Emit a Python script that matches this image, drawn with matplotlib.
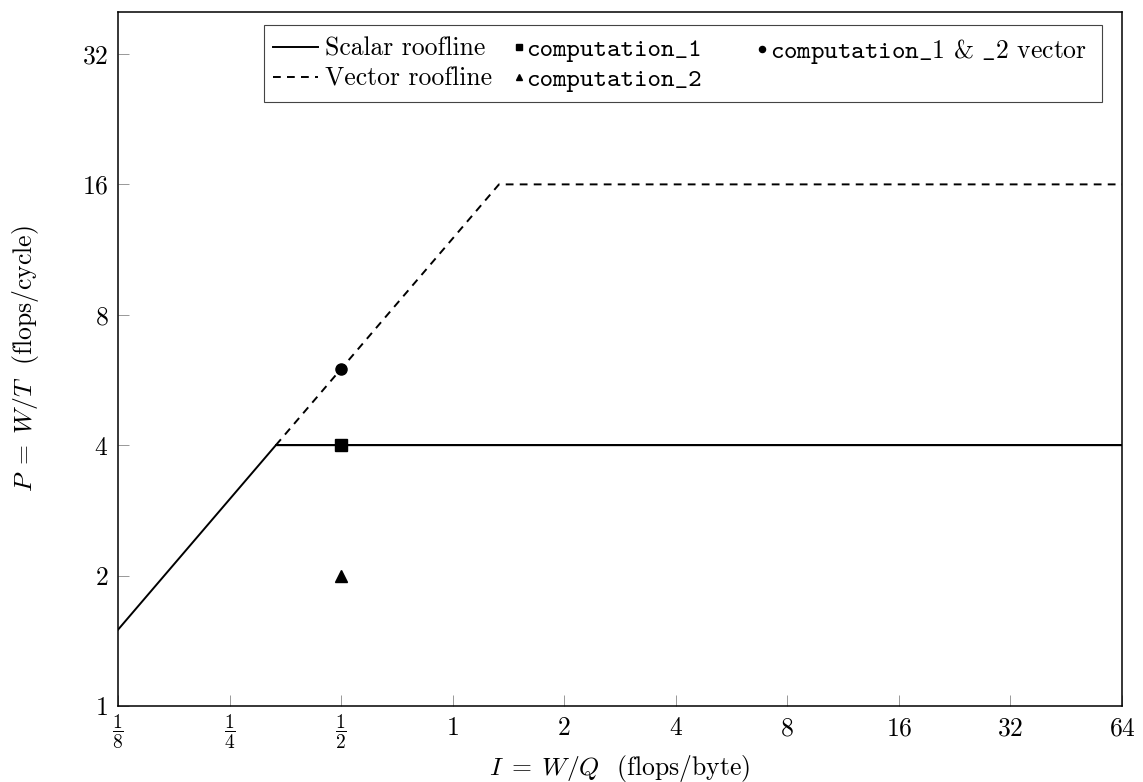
import matplotlib
matplotlib.use('Agg')
import matplotlib.pyplot as plt
import matplotlib.transforms as mtransforms
from matplotlib.lines import Line2D
from matplotlib.patches import Rectangle
from matplotlib.legend_handler import HandlerBase

plt.rcParams['font.family'] = ['cmr10', 'DejaVu Serif']
plt.rcParams['mathtext.fontset'] = 'cm'
plt.rcParams['axes.formatter.use_mathtext'] = True
plt.rcParams['font.size'] = 18.5

# roofline data
scalar_intensity = [1 / 8, 1 / 3, 64]
scalar_perf = [1.5, 4, 4]
vector_intensity = [1 / 3, 4 / 3, 64]
vector_perf = [4, 16, 16]

# measured points
point_intensity = [0.5]
comp1_perf = [4]
comp2_perf = [2]
vector_point_perf = [6]

xticks = [1 / 8, 1 / 4, 1 / 2, 1, 2, 4, 8, 16, 32, 64]
xtick_labels = [r'$\dfrac{1}{8}$', r'$\dfrac{1}{4}$', r'$\dfrac{1}{2}$',
                '$1$', '$2$', '$4$', '$8$', '$16$', '$32$', '$64$']
yticks = [1, 2, 4, 8, 16, 32]
ytick_labels = ['$1$', '$2$', '$4$', '$8$', '$16$', '$32$']


class MarkerRight(HandlerBase):
    # mark sits at the right end of the handle, close to the text (pgfplots style)
    def create_artists(self, legend, orig_handle, xdescent, ydescent, width, height,
                       fontsize, trans):
        ms = orig_handle.get_markersize() * 0.55
        m = Line2D([width - xdescent - ms / 2 + 2], [height / 2 - ydescent], ls='none',
                   marker=orig_handle.get_marker(), ms=ms, color='black', transform=trans)
        return [m]


fig = plt.figure(figsize=(11.43, 7.82), dpi=100)
ax = fig.add_axes([118 / 1143, 1 - 706 / 782, 1004 / 1143, 694 / 782])

l_scalar, = ax.plot(scalar_intensity, scalar_perf, color='black', lw=1.4)
l_vector, = ax.plot(vector_intensity, vector_perf, color='black', lw=1.4, ls=(0, (4, 3.2)))
ax.plot(scalar_intensity[1:], scalar_perf[1:], color='black', lw=1.4)
m_c1, = ax.plot(point_intensity, comp1_perf, ls='none', marker='s', ms=8.6, color='black')
m_c2, = ax.plot(point_intensity, comp2_perf, ls='none', marker='^', ms=8, color='black')
m_vec, = ax.plot(point_intensity, vector_point_perf, ls='none', marker='o', ms=8,
                 color='black')

ax.set_xscale('log', base=2)
ax.set_yscale('log', base=2)
ax.set_xlim(1 / 8, 64)
ax.set_ylim(1, 40)
ax.set_xticks(xticks)
ax.set_xticklabels([])
ax.set_yticks(yticks)
ax.set_yticklabels(ytick_labels)
ax.minorticks_off()
ax.tick_params(direction='in', length=7.7, width=0.6, color='#888888', labelsize=18.5)
ax.tick_params(axis='y', pad=7)
for s in ax.spines.values():
    s.set_linewidth(1.1)

# x tick labels: fractions centred on their bar, integers on a common baseline
xtrans = mtransforms.blended_transform_factory(ax.transData, ax.transAxes)
for xv, lab in zip(xticks, xtick_labels):
    if 'frac' in lab:
        ax.text(xv, -0.0375, lab, transform=xtrans, ha='center', va='center', fontsize=14)
    else:
        ax.text(xv, -0.0418, lab, transform=xtrans, ha='center', va='baseline',
                fontsize=18.5)

ax.set_xlabel(r'$I\;=\;W/Q$  (flops/byte)', fontsize=18.5)
ax.set_ylabel(r'$P\;=\;W/T$  (flops/cycle)', fontsize=18.5)
ax.xaxis.set_label_coords(0.5, -0.0677)
ax.xaxis.label.set_va('top')
ax.yaxis.set_label_coords(-0.077, 0.5)

# legend: two frameless legends inside one shared box
leg_kw = dict(borderaxespad=0, frameon=False, handlelength=1.75, handletextpad=0.28,
              labelspacing=0.25, fontsize=18.5, borderpad=0.35)
leg1 = ax.legend([l_scalar, l_vector, m_c1, m_c2],
                 ['Scalar roofline', 'Vector roofline', 'computation_1', 'computation_2'],
                 handler_map={m_c1: MarkerRight(), m_c2: MarkerRight()},
                 ncol=2, columnspacing=-0.7, loc='upper left',
                 bbox_to_anchor=(0.1454, 0.977), **leg_kw)
for t in leg1.get_texts()[2:]:
    t.set_fontfamily('cmtt10')
ax.add_artist(leg1)
ax.legend([m_vec], [r'$\mathtt{computation\_1}$ & $\mathtt{\_2}$ vector'],
          handler_map={m_vec: MarkerRight()}, loc='upper right',
          bbox_to_anchor=(0.974, 0.977), **leg_kw)
ax.add_patch(Rectangle((0.1454, 0.870), 0.8347, 0.111, transform=ax.transAxes,
                       facecolor='white', edgecolor='#444444', lw=0.8, zorder=4.9))

fig.savefig('out.png', dpi=100)
